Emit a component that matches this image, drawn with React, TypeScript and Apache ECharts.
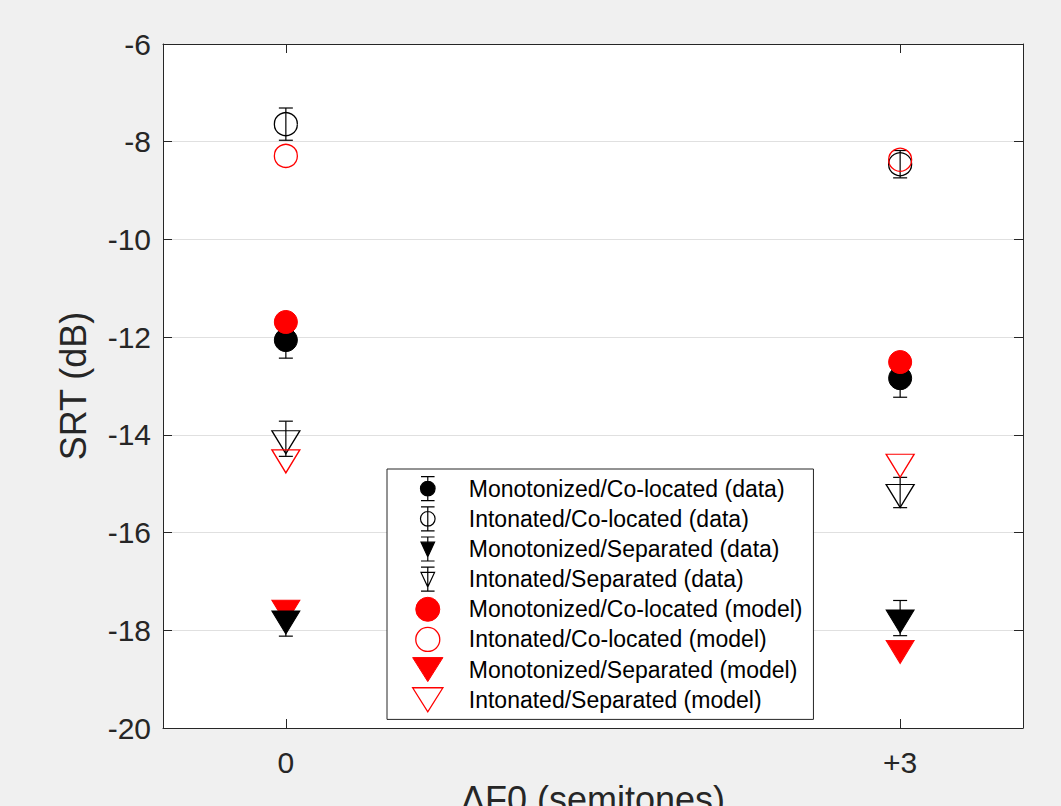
import React, { useEffect, useRef } from "react";
import * as echarts from "echarts";

// ---- data ----
const xValues = [0, 3];
const xTickLabels = ["0", "+3"];
const yTicks = { min: -20, max: -6, interval: 2 };

const monoCoData = [-12.06, -12.84];
const monoCoErr = [0.37, 0.39];
const intCoData = [-7.64, -8.46];
const intCoErr = [0.33, 0.28];
const monoSepData = [-17.77, -17.75];
const monoSepErr = [0.35, 0.36];
const intSepData = [-14.08, -15.18];
const intSepErr = [0.36, 0.31];

const monoCoModel = [-11.69, -12.51];
const intCoModel = [-8.29, -8.37];
const monoSepModel = [-17.55, -18.37];
const intSepModel = [-14.47, -14.56];

const names = [
  "Monotonized/Co-located (data)",
  "Intonated/Co-located (data)",
  "Monotonized/Separated (data)",
  "Intonated/Separated (data)",
  "Monotonized/Co-located (model)",
  "Intonated/Co-located (model)",
  "Monotonized/Separated (model)",
  "Intonated/Separated (model)",
];

const FONT = "'Liberation Sans', Arial, Helvetica, sans-serif";
const AX = "#262626";
const RED = "#ff0000";
const TRI = "path://M0 0L28 0L14 23Z";

const pts = (ys: number[]) => xValues.map((x, i) => [x, ys[i]]);

const iconDataCircle =
  "path://M7 0L7 23M0.5 0L13.5 0M0.5 23L13.5 23M0 11.5A7 7 0 1 0 14 11.5A7 7 0 1 0 0 11.5Z";
const iconDataTri = "path://M7 0L7 23M0.5 0L13.5 0M0.5 23L13.5 23M0.5 5L13.5 5L7 19Z";
const iconModelCircle = "path://M0 12A12 12 0 1 0 24 12A12 12 0 1 0 0 12Z";
const iconModelTri = "path://M0 0L29 0L14.5 23Z";

export default function App() {
  const ref = useRef<HTMLDivElement>(null);
  useEffect(() => {
    if (!ref.current) return;
    const chart = echarts.init(ref.current, null, { renderer: "svg" });

    const errData = xValues.flatMap((x, i) => [
      [x, monoCoData[i], monoCoErr[i]],
      [x, intCoData[i], intCoErr[i]],
      [x, monoSepData[i], monoSepErr[i]],
      [x, intSepData[i], intSepErr[i]],
    ]);

    const filled = (c: string) => ({ color: c, borderColor: c, borderWidth: 1, opacity: 1 });
    const open = (c: string) => ({ color: "rgba(0,0,0,0)", borderColor: c, borderWidth: 1.3, opacity: 1 });

    const scatter = (name: string, ys: number[], symbol: string, size: any, style: any, offset?: number[]) => ({
      type: "scatter",
      name,
      data: pts(ys),
      symbol,
      symbolSize: size,
      symbolOffset: offset || [0, 0],
      itemStyle: style,
      emphasis: { disabled: true },
      z: 3,
    });

    const lg = (name: string, icon: string, style: any) => ({ name, icon, itemStyle: { ...style, opacity: 1 } });

    const option: any = {
      animation: false,
      backgroundColor: "#f0f0f0",
      textStyle: { fontFamily: FONT },
      grid: {
        left: 163,
        right: 38,
        top: 44,
        bottom: 78,
        show: true,
        backgroundColor: "#ffffff",
        borderWidth: 0,
        containLabel: false,
        outerBoundsMode: "none",
      },
      legend: {
        orient: "vertical",
        left: 387,
        top: 469,
        padding: [7, 11, 7, 25],
        itemWidth: 72,
        itemHeight: 24,
        itemGap: 5,
        symbolKeepAspect: true,
        backgroundColor: "#ffffff",
        borderColor: AX,
        borderWidth: 1,
        borderRadius: 0,
        selectedMode: false,
        textStyle: { fontFamily: FONT, fontSize: 23, lineHeight: 24, color: "#000" },
        data: [
          lg(names[0], iconDataCircle, { color: "#000", borderColor: "#000", borderWidth: 1.2 }),
          lg(names[1], iconDataCircle, { color: "rgba(0,0,0,0)", borderColor: "#000", borderWidth: 1.2 }),
          lg(names[2], iconDataTri, { color: "#000", borderColor: "#000", borderWidth: 1.2 }),
          lg(names[3], iconDataTri, { color: "rgba(0,0,0,0)", borderColor: "#000", borderWidth: 1.2 }),
          lg(names[4], iconModelCircle, { color: RED, borderColor: RED, borderWidth: 1 }),
          lg(names[5], iconModelCircle, { color: "rgba(0,0,0,0)", borderColor: RED, borderWidth: 1.3 }),
          lg(names[6], iconModelTri, { color: RED, borderColor: RED, borderWidth: 1 }),
          lg(names[7], iconModelTri, { color: "rgba(0,0,0,0)", borderColor: RED, borderWidth: 1.3 }),
        ],
      },
      xAxis: [
        {
          type: "value",
          min: -0.6,
          max: 3.6,
          position: "bottom",
          axisLine: { show: true, onZero: false, lineStyle: { color: AX, width: 1 } },
          axisTick: { show: true, inside: true, length: 9, customValues: xValues, lineStyle: { color: AX } },
          axisLabel: {
            show: true,
            customValues: xValues,
            margin: 19,
            fontSize: 30,
            color: AX,
            fontFamily: FONT,
            formatter: (v: number) => xTickLabels[xValues.indexOf(v)] ?? "",
          },
          splitLine: { show: false },
          name: "\u0394F0 (semitones)",
          nameLocation: "middle",
          nameGap: 43,
          nameTextStyle: { fontSize: 36, color: AX, fontFamily: FONT },
        },
        {
          type: "value",
          min: -0.6,
          max: 3.6,
          position: "top",
          axisLine: { show: true, onZero: false, lineStyle: { color: AX, width: 1 } },
          axisTick: { show: true, inside: true, length: 9, customValues: xValues, lineStyle: { color: AX } },
          axisLabel: { show: false },
          splitLine: { show: false },
        },
      ],
      yAxis: [
        {
          type: "value",
          min: yTicks.min,
          max: yTicks.max,
          interval: yTicks.interval,
          position: "left",
          axisLine: { show: true, onZero: false, lineStyle: { color: AX, width: 1 } },
          axisTick: { show: true, inside: true, length: 9, lineStyle: { color: AX } },
          axisLabel: { margin: 12, fontSize: 30, color: AX, fontFamily: FONT },
          splitLine: { show: true, lineStyle: { color: "#e0e0e0", width: 1 } },
          name: "SRT (dB)",
          nameLocation: "middle",
          nameGap: 72,
          nameTextStyle: { fontSize: 36, color: AX, fontFamily: FONT },
        },
        {
          type: "value",
          min: yTicks.min,
          max: yTicks.max,
          interval: yTicks.interval,
          position: "right",
          axisLine: { show: true, onZero: false, lineStyle: { color: AX, width: 1 } },
          axisTick: { show: true, inside: true, length: 9, lineStyle: { color: AX } },
          axisLabel: { show: false },
          splitLine: { show: false },
        },
      ],
      series: [
        {
          type: "custom",
          name: "errorbars",
          xAxisIndex: 0,
          yAxisIndex: 0,
          data: errData,
          z: 3,
          renderItem: (params: any, api: any) => {
            const x = api.value(0);
            const y = api.value(1);
            const e = api.value(2);
            const top = api.coord([x, y + e]);
            const bot = api.coord([x, y - e]);
            const hw = 7;
            const style = { stroke: "#000", lineWidth: 1.2, fill: null };
            return {
              type: "group",
              children: [
                { type: "line", shape: { x1: top[0], y1: top[1], x2: bot[0], y2: bot[1] }, style },
                { type: "line", shape: { x1: top[0] - hw, y1: top[1], x2: top[0] + hw, y2: top[1] }, style },
                { type: "line", shape: { x1: bot[0] - hw, y1: bot[1], x2: bot[0] + hw, y2: bot[1] }, style },
              ],
            };
          },
        },
        scatter(names[6], monoSepModel, TRI, [28, 23], filled(RED), [0, 3.5]),
        scatter(names[0], monoCoData, "circle", 23, filled("#000")),
        scatter(names[1], intCoData, "circle", 23, open("#000")),
        scatter(names[2], monoSepData, TRI, [28, 23], filled("#000"), [0, 3.5]),
        scatter(names[3], intSepData, TRI, [28, 23], open("#000"), [0, 3.5]),
        scatter(names[4], monoCoModel, "circle", 23, filled(RED)),
        scatter(names[5], intCoModel, "circle", 23, open(RED)),
        scatter(names[7], intSepModel, TRI, [28, 23], open(RED), [0, 3.5]),
      ],
    };

    chart.setOption(option);
    return () => chart.dispose();
  }, []);

  return (
    <div
      ref={ref}
      style={{ position: "fixed", left: 0, top: 0, width: 1061, height: 806 }}
    />
  );
}
